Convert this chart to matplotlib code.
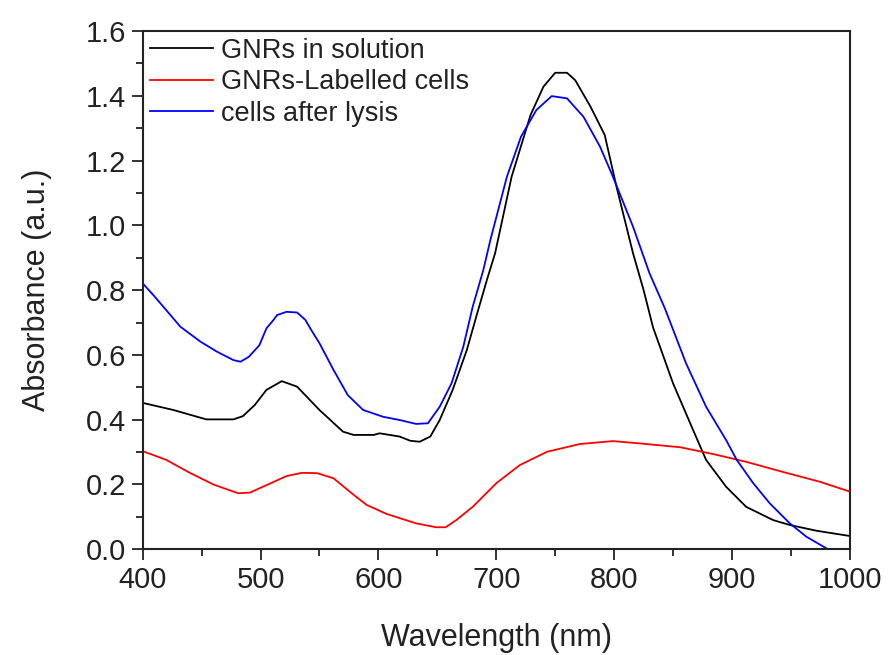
import matplotlib
matplotlib.use("Agg")
import matplotlib.pyplot as plt
from matplotlib.ticker import MultipleLocator, FormatStrFormatter

plt.rcParams['font.family'] = ['Liberation Sans', 'DejaVu Sans']

# GNRs in solution
wl_black = [400, 426, 454, 477, 485, 495, 505, 518, 531, 550, 570, 579, 596, 601, 618, 627, 635,
            644, 652, 663, 675, 683, 692, 699, 713, 729, 740, 750, 760, 767, 780, 792, 802,
            816, 825, 833, 850, 867, 878, 895, 912, 935, 949, 972, 1000]
ab_black = [0.452, 0.430, 0.401, 0.401, 0.411, 0.445, 0.492, 0.519, 0.502, 0.430, 0.363, 0.353,
            0.353, 0.358, 0.348, 0.335, 0.332, 0.348, 0.399, 0.492, 0.615, 0.718, 0.831, 0.914,
            1.150, 1.340, 1.428, 1.471, 1.471, 1.448, 1.366, 1.279, 1.119, 0.914, 0.800,
            0.685, 0.512, 0.368, 0.276, 0.193, 0.131, 0.090, 0.075, 0.057, 0.041]

# GNRs-Labelled cells
wl_red = [400, 420, 440, 460, 481, 491, 505, 522, 535, 548, 562, 579, 590, 607, 632, 649, 657,
          666, 680, 700, 720, 743, 771, 799, 827, 856, 884, 912, 946, 974, 1000]
ab_red = [0.303, 0.276, 0.236, 0.200, 0.173, 0.175, 0.198, 0.226, 0.236, 0.235, 0.219, 0.168,
          0.137, 0.109, 0.080, 0.068, 0.068, 0.090, 0.131, 0.204, 0.260, 0.301, 0.325, 0.334,
          0.325, 0.315, 0.294, 0.270, 0.236, 0.209, 0.178]

# cells after lysis
wl_blue = [400, 409, 432, 449, 463, 477, 483, 490, 499, 505, 511, 514, 522, 531, 538, 543, 550,
           562, 574, 587, 604, 618, 632, 642, 652, 662, 672, 680, 689, 695, 709, 721, 734, 747,
           760, 774, 788, 799, 816, 830, 843, 861, 878, 895, 904, 918, 932, 949, 963, 980]
ab_blue = [0.821, 0.785, 0.687, 0.641, 0.610, 0.584, 0.579, 0.594, 0.630, 0.682, 0.708, 0.723,
           0.733, 0.731, 0.708, 0.677, 0.636, 0.553, 0.476, 0.430, 0.409, 0.399, 0.387, 0.389,
           0.440, 0.512, 0.625, 0.749, 0.862, 0.955, 1.150, 1.274, 1.356, 1.399, 1.392, 1.335,
           1.243, 1.150, 0.996, 0.852, 0.744, 0.574, 0.440, 0.337, 0.276, 0.204, 0.142, 0.080,
           0.039, 0.003]

labels = ["GNRs in solution", "GNRs-Labelled cells", "cells after lysis"]

fig = plt.figure(figsize=(8.89, 6.55), dpi=100)
ax = fig.add_axes([0.1605, 0.1614, 0.7955, 0.7913])

ax.plot(wl_black, ab_black, color='black', lw=1.3, label=labels[0])
ax.plot(wl_red, ab_red, color='#ff0000', lw=1.3, label=labels[1])
ax.plot(wl_blue, ab_blue, color='#0000ff', lw=1.3, label=labels[2])

ax.set_xlim(400, 1000)
ax.set_ylim(0, 1.6)
ax.xaxis.set_major_locator(MultipleLocator(100))
ax.xaxis.set_minor_locator(MultipleLocator(50))
ax.yaxis.set_major_locator(MultipleLocator(0.2))
ax.yaxis.set_minor_locator(MultipleLocator(0.1))
ax.yaxis.set_major_formatter(FormatStrFormatter('%.1f'))

for s in ax.spines.values():
    s.set_linewidth(1.5)
    s.set_color('#222222')
ax.tick_params(which='major', direction='out', length=8, width=1.3, labelsize=21,
               colors='#222222', pad=4)
ax.tick_params(which='minor', direction='out', length=5, width=1.3, colors='#222222')

ax.set_xlabel("Wavelength (nm)", fontsize=22, color='#222222', labelpad=21)
ax.set_ylabel("Absorbance (a.u.)", fontsize=22, color='#222222', labelpad=24)

leg = ax.legend(loc='upper left', bbox_to_anchor=(-0.012, 1.018), frameon=False,
                fontsize=19.5, handlelength=2.3, handletextpad=0.3, labelspacing=0.2,
                borderaxespad=0.2)
for t in leg.get_texts():
    t.set_color('#222222')

fig.savefig("out.png", dpi=100)
